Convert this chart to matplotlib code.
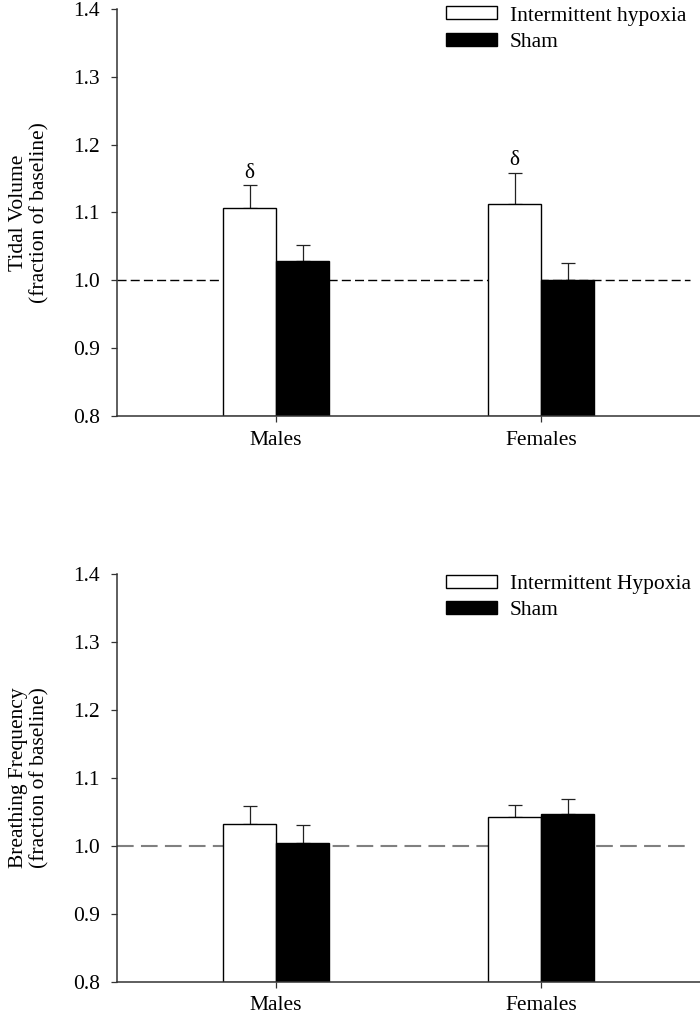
import matplotlib
matplotlib.use("Agg")
import matplotlib.pyplot as plt
import numpy as np

plt.rcParams['font.family'] = ['Liberation Serif', 'DejaVu Serif']

groups = ["Males", "Females"]
yticks = [0.8, 0.9, 1.0, 1.1, 1.2, 1.3, 1.4]

# Tidal volume
vt_ih = [1.107, 1.112]
vt_ih_err = [0.033, 0.046]
vt_sham = [1.028, 1.000]
vt_sham_err = [0.024, 0.025]
vt_marks = ["δ", "δ"]

# Breathing frequency
f_ih = [1.032, 1.042]
f_ih_err = [0.026, 0.018]
f_sham = [1.004, 1.046]
f_sham_err = [0.026, 0.023]

FS = 15.5
W = 0.2

fig = plt.figure(figsize=(7.0, 10.11), dpi=100)
ax1 = fig.add_axes([117/700, 1-416/1011, (700-117)/700, (416-9)/1011])
ax2 = fig.add_axes([117/700, 1-981.7/1011, (700-117)/700, (981.7-573.7)/1011])


def panel(ax, ih, ih_err, sham, sham_err, ylabel, ih_label, dash_style, marks=None):
    x = np.arange(len(groups))
    ax.bar(x - W/2, [v - 0.8 for v in ih], W, bottom=0.8, color='white',
           edgecolor='black', linewidth=1.0, label=ih_label, zorder=2)
    ax.bar(x + W/2, [v - 0.8 for v in sham], W, bottom=0.8, color='black',
           edgecolor='black', linewidth=1.0, label='Sham', zorder=2)
    ax.errorbar(x - W/2, ih, yerr=[np.zeros(len(ih)), ih_err], fmt='none',
                ecolor='#222222', elinewidth=0.9, capsize=4.7, capthick=0.9, zorder=1)
    ax.errorbar(x + W/2, sham, yerr=[np.zeros(len(sham)), sham_err], fmt='none',
                ecolor='#222222', elinewidth=0.9, capsize=4.7, capthick=0.9, zorder=1)
    color, lw, dashes = dash_style
    ax.axhline(1.0, xmin=0, xmax=573/583, color=color, lw=lw, dashes=dashes, zorder=1.5)
    if marks:
        for xi, v, e, m in zip(x - W/2, ih, ih_err, marks):
            ax.annotate(m, (xi, v + e), xytext=(0, 2), textcoords='offset points',
                        ha='center', va='bottom', fontsize=FS, color='black')
    ax.set_xlim(-0.6, 1.6)
    ax.set_ylim(0.8, 1.4)
    ax.set_yticks(yticks)
    ax.set_yticklabels([f"{t:.1f}" for t in yticks], fontsize=FS)
    ax.set_xticks(x)
    ax.set_xticklabels(groups, fontsize=FS)
    for s in ['top', 'right']:
        ax.spines[s].set_visible(False)
    for s in ['left', 'bottom']:
        ax.spines[s].set_color('#333333')
        ax.spines[s].set_linewidth(1.1)
    ax.tick_params(axis='y', length=4.5, width=0.9, pad=8, color='#333333')
    ax.tick_params(axis='x', length=4.5, width=0.9, pad=6, color='#333333')
    ax.set_ylabel(ylabel, fontsize=FS, linespacing=1.12)
    ax.yaxis.set_label_coords((49 - 117) / 583, 0.5)


panel(ax1, vt_ih, vt_ih_err, vt_sham, vt_sham_err,
      "Tidal Volume\n(fraction of baseline)", "Intermittent hypoxia",
      ('black', 1.0, (6.5, 3)), marks=vt_marks)
panel(ax2, f_ih, f_ih_err, f_sham, f_sham_err,
      "Breathing Frequency\n(fraction of baseline)", "Intermittent Hypoxia",
      ('#808080', 1.5, (8, 3.5)))

for ax, top in [(ax1, 1 - 6.5/1011), (ax2, 1 - 575/1011)]:
    ax.legend(loc='upper left', bbox_to_anchor=(446/700, top), bbox_transform=fig.transFigure,
              frameon=False, fontsize=FS, handlelength=2.35, handleheight=0.55,
              handletextpad=0.6, labelspacing=0.33, borderpad=0, borderaxespad=0)

fig.savefig("out.png", dpi=100)
